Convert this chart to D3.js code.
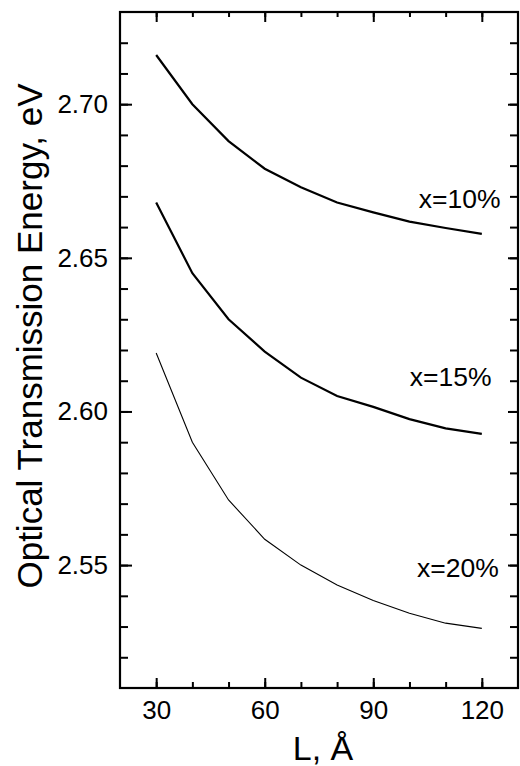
<!DOCTYPE html>
<meta charset="utf-8">
<script src="https://d3js.org/d3.v7.min.js"></script>
<style>
  body { margin: 0; background: #fff; }
  text { font-family: "Liberation Sans", Arial, sans-serif; fill: #000; }
</style>
<body>
<div id="chart"></div>
<script>
// well width L (Angstrom) and energies for each composition
var wellWidth = [30, 40, 50, 60, 70, 80, 90, 100, 110, 120];
var energy10 = [2.716, 2.700, 2.688, 2.679, 2.673, 2.668, 2.6648, 2.6618, 2.6597, 2.6578];
var energy15 = [2.668, 2.645, 2.630, 2.6195, 2.611, 2.605, 2.6015, 2.5975, 2.5945, 2.5927];
var energy20 = [2.619, 2.590, 2.5712, 2.5584, 2.550, 2.5435, 2.5385, 2.5343, 2.5311, 2.5294];
var seriesNames = ["x=10%", "x=15%", "x=20%"];
var xMajorTicks = [30, 60, 90, 120];
var yMajorTicks = [2.55, 2.60, 2.65, 2.70];

var W = 520, H = 766;
var margin = { left: 120, right: 518, top: 12, bottom: 688 };

var svg = d3.select("#chart").append("svg")
  .attr("width", W).attr("height", H);

var x = d3.scaleLinear().domain([20, 130]).range([margin.left, margin.right]);
var y = d3.scaleLinear().domain([2.51, 2.73]).range([margin.bottom, margin.top]);

var xMinor = d3.range(30, 121, 10);
var yMinor = d3.range(2.52, 2.7251, 0.01).map(function(v) { return +v.toFixed(2); });

// minor ticks
svg.append("g").attr("transform", "translate(0," + margin.bottom + ")")
  .call(d3.axisBottom(x).tickValues(xMinor).tickSize(-6).tickFormat(""));
svg.append("g").attr("transform", "translate(0," + margin.top + ")")
  .call(d3.axisTop(x).tickValues(xMinor).tickSize(-5).tickFormat(""));
svg.append("g").attr("transform", "translate(" + margin.left + ",0)")
  .call(d3.axisLeft(y).tickValues(yMinor).tickSize(-8).tickFormat(""));
svg.append("g").attr("transform", "translate(" + margin.right + ",0)")
  .call(d3.axisRight(y).tickValues(yMinor).tickSize(-8).tickFormat(""));

// major ticks with labels
var xb = svg.append("g").attr("transform", "translate(0," + margin.bottom + ")")
  .call(d3.axisBottom(x).tickValues(xMajorTicks).tickSize(-10).tickPadding(13));
xb.selectAll("text").attr("font-size", null).style("font-size", "26px");
svg.append("g").attr("transform", "translate(0," + margin.top + ")")
  .call(d3.axisTop(x).tickValues(xMajorTicks).tickSize(-10).tickFormat(""));
var yl = svg.append("g").attr("transform", "translate(" + margin.left + ",0)")
  .call(d3.axisLeft(y).tickValues(yMajorTicks).tickSize(-12).tickPadding(12)
    .tickFormat(d3.format(".2f")));
yl.selectAll("text").style("font-size", "26px");
svg.append("g").attr("transform", "translate(" + margin.right + ",0)")
  .call(d3.axisRight(y).tickValues(yMajorTicks).tickSize(-10).tickFormat(""));

svg.selectAll(".domain").remove();
svg.selectAll(".tick line").attr("stroke", "#000").attr("stroke-width", 2);

// frame
svg.append("rect")
  .attr("x", margin.left).attr("y", margin.top)
  .attr("width", margin.right - margin.left).attr("height", margin.bottom - margin.top)
  .attr("fill", "none").attr("stroke", "#000").attr("stroke-width", 2.2);

// curves
var line = d3.line()
  .x(function(d) { return x(d[0]); })
  .y(function(d) { return y(d[1]); });

var series = [energy10, energy15, energy20];
var widths = [2.2, 2.2, 1.1];
series.forEach(function(vals, i) {
  svg.append("path")
    .datum(wellWidth.map(function(L, j) { return [L, vals[j]]; }))
    .attr("fill", "none")
    .attr("stroke", "#000")
    .attr("stroke-width", widths[i])
    .attr("d", line);
});

// curve labels
var labelPos = [[125.2, 2.6663], [122.7, 2.6082], [124.7, 2.5462]];
seriesNames.forEach(function(name, i) {
  svg.append("text")
    .attr("x", x(labelPos[i][0]))
    .attr("y", y(labelPos[i][1]))
    .attr("text-anchor", "end")
    .style("font-size", "26.5px")
    .text(name);
});

// axis titles
svg.append("text")
  .attr("transform", "translate(42,336) rotate(-90)")
  .attr("text-anchor", "middle")
  .style("font-size", "35px")
  .text("Optical Transmission Energy, eV");

svg.append("text")
  .attr("x", 323).attr("y", 760)
  .attr("text-anchor", "middle")
  .style("font-size", "34px")
  .text("L, Å");
</script>
</body>
